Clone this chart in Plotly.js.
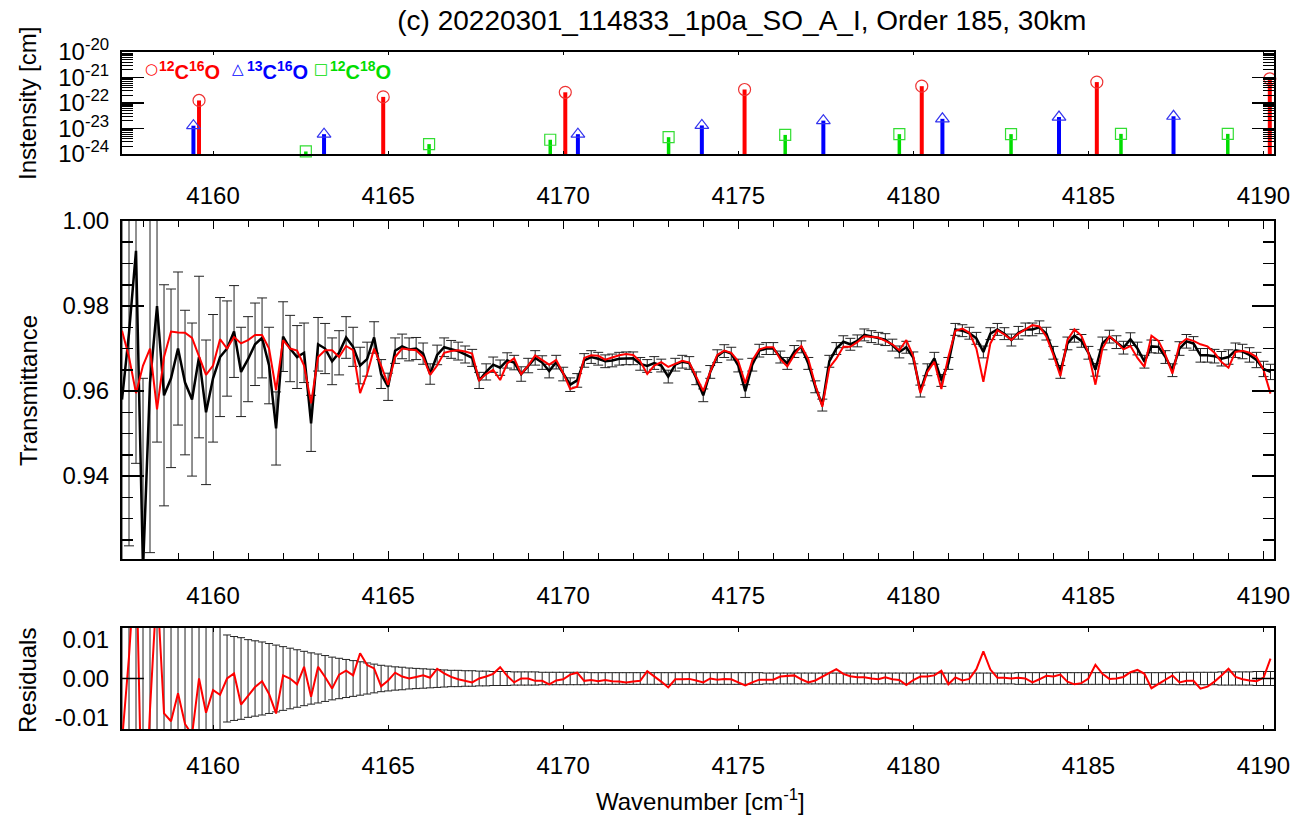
<!DOCTYPE html>
<html><head><meta charset="utf-8">
<script src="https://cdn.plot.ly/plotly-3.0.1.min.js"></script>
<style>html,body{margin:0;padding:0;background:#fff}#chart{width:1300px;height:823px}</style>
</head><body><div id="chart"></div>
<script>
// ---- spectral grid (cm-1) ----
const wavenumber = [
4157.4,4157.6,4157.8,4158.0,4158.2,4158.4,4158.6,4158.8,4159.0,4159.2,4159.4,4159.6,4159.8,
4160.0,4160.2,4160.4,4160.6,4160.8,4161.0,4161.2,4161.4,4161.6,4161.8,4162.0,4162.2,4162.4,4162.6,4162.8,4163.0,4163.2,4163.4,4163.6,4163.8,4164.0,4164.2,4164.4,4164.6,4164.8,
4165.0,4165.2,4165.4,4165.6,4165.8,4166.0,4166.2,4166.4,4166.6,4166.8,4167.0,4167.2,4167.4,4167.6,4167.8,4168.0,4168.2,4168.4,4168.6,4168.8,4169.0,4169.2,4169.4,4169.6,4169.8,
4170.0,4170.2,4170.4,4170.6,4170.8,4171.0,4171.2,4171.4,4171.6,4171.8,4172.0,4172.2,4172.4,4172.6,4172.8,4173.0,4173.2,4173.4,4173.6,4173.8,4174.0,4174.2,4174.4,4174.6,4174.8,
4175.0,4175.2,4175.4,4175.6,4175.8,4176.0,4176.2,4176.4,4176.6,4176.8,4177.0,4177.2,4177.4,4177.6,4177.8,4178.0,4178.2,4178.4,4178.6,4178.8,4179.0,4179.2,4179.4,4179.6,4179.8,
4180.0,4180.2,4180.4,4180.6,4180.8,4181.0,4181.2,4181.4,4181.6,4181.8,4182.0,4182.2,4182.4,4182.6,4182.8,4183.0,4183.2,4183.4,4183.6,4183.8,4184.0,4184.2,4184.4,4184.6,4184.8,
4185.0,4185.2,4185.4,4185.6,4185.8,4186.0,4186.2,4186.4,4186.6,4186.8,4187.0,4187.2,4187.4,4187.6,4187.8,4188.0,4188.2,4188.4,4188.6,4188.8,4189.0,4189.2,4189.4,4189.6,4189.8,
4190.0,4190.2];

// ---- observed transmittance (black) ----
const observed = [
0.958,0.9736,0.993,0.918,0.962,0.980,0.959,0.963,0.970,0.962,0.958,0.968,0.955,
0.963,0.968,0.970,0.974,0.9645,0.9675,0.971,0.9725,0.966,0.9512,0.9728,0.970,0.968,0.969,0.9524,0.971,0.970,0.967,0.969,0.9726,0.9704,0.9660,0.9675,0.9726,0.9640,
0.9610,0.9695,0.9705,0.9698,0.9700,0.9688,0.9640,0.9685,0.9703,0.9698,0.9694,0.9686,0.9678,0.9625,0.9645,0.9662,0.9655,0.9672,0.9667,0.9640,0.9660,0.9678,0.9667,0.9647,0.9668,
0.9640,0.9615,0.9625,0.9672,0.9680,0.9676,0.9670,0.9672,0.9676,0.9677,0.9677,0.9664,0.9659,0.9666,0.9660,0.9634,0.9662,0.9669,0.9666,0.9630,0.9590,0.9645,0.9682,0.9694,0.9688,
0.9660,0.9600,0.9662,0.9695,0.9700,0.9700,0.9680,0.9665,0.9693,0.9704,0.9665,0.9610,0.9567,0.9670,0.9700,0.9716,0.9710,0.9718,0.9732,0.9728,0.9724,0.9721,0.9708,0.9692,0.9703,
0.9678,0.9600,0.9650,0.9677,0.9625,0.9665,0.9745,0.9742,0.9736,0.9724,0.9692,0.9735,0.9745,0.9735,0.9720,0.9737,0.9745,0.9745,0.9750,0.9735,0.9690,0.9645,0.9712,0.9730,0.9718,
0.9690,0.9650,0.9712,0.9728,0.9715,0.9702,0.9722,0.9700,0.9669,0.9705,0.9704,0.9680,0.9649,0.9700,0.9717,0.9712,0.9684,0.9684,0.9682,0.9676,0.9680,0.9696,0.9693,0.9685,0.9673,
0.9652,0.9645];

// ---- model transmittance (red) ----
const model = [
0.9742,0.968,0.9595,0.966,0.970,0.9557,0.968,0.9740,0.9738,0.9737,0.9725,0.968,0.9638,
0.966,0.9722,0.970,0.9727,0.9712,0.972,0.9732,0.9732,0.970,0.9602,0.972,0.970,0.9695,0.966,0.9571,0.968,0.9696,0.9696,0.968,0.9706,0.9696,0.9595,0.9640,0.9700,0.9660,
0.9615,0.9680,0.9700,0.9698,0.9696,0.9680,0.9638,0.9660,0.9690,0.9694,0.9696,0.9693,0.9688,0.9625,0.9640,0.9650,0.9626,0.9665,0.9677,0.9640,0.9660,0.9684,0.9673,0.9662,0.9673,
0.9642,0.9605,0.9610,0.9678,0.9684,0.9683,0.9674,0.9679,0.9684,0.9687,0.9685,0.9670,0.9640,0.9660,0.9668,0.9657,0.9664,0.9671,0.9667,0.9635,0.9600,0.9645,0.9685,0.9695,0.9690,
0.9670,0.9618,0.9672,0.9698,0.9703,0.9703,0.9675,0.9658,0.9685,0.9706,0.9675,0.9615,0.9563,0.9655,0.9676,0.9704,0.9704,0.9715,0.9729,0.9728,0.9726,0.9718,0.9710,0.9696,0.9720,
0.9682,0.9595,0.9645,0.9669,0.9605,0.9680,0.9742,0.9747,0.9737,0.9700,0.9622,0.9712,0.9743,0.9733,0.9720,0.9735,0.9745,0.9755,0.9752,0.9728,0.9685,0.9635,0.9720,0.9745,0.9730,
0.9690,0.9615,0.9700,0.9729,0.9715,0.9698,0.9706,0.9678,0.9657,0.9730,0.9718,0.9685,0.9641,0.9710,0.9723,0.9718,0.9710,0.9705,0.9690,0.9668,0.9655,0.9692,0.9695,0.9690,0.9680,
0.9650,0.9594];

// ---- 1-sigma uncertainty ----
const sigma = [
0.045,0.050,0.050,0.045,0.040,0.032,0.026,0.021,0.018,0.017,0.018,0.019,0.017,
0.015,0.014,0.0112,0.0108,0.0105,0.0100,0.0097,0.0094,0.0090,0.0086,0.0082,0.0078,0.0074,0.0070,0.0066,0.0063,0.0059,0.0055,0.0052,0.0049,0.0046,0.0043,0.0040,0.0037,0.0034,
0.0032,0.0030,0.0029,0.0027,0.0026,0.0025,0.0024,0.0023,0.0022,0.0021,0.0021,0.0020,0.0020,0.0019,0.0019,0.0018,0.0018,0.0018,0.0017,0.0017,0.0017,0.0017,0.0016,0.0016,0.0016,
0.0016,0.0016,0.0016,0.0016,0.0015,0.0015,0.0015,0.0015,0.0015,0.0015,0.0015,0.0015,0.0015,0.0015,0.0015,0.0015,0.0015,0.0015,0.0015,0.0015,0.0015,0.0015,0.0015,0.0015,0.0015,
0.0015,0.0015,0.0015,0.0015,0.0014,0.0014,0.0014,0.0014,0.0014,0.0014,0.0014,0.0014,0.0014,0.0014,0.0014,0.0014,0.0014,0.0014,0.0014,0.0014,0.0014,0.0014,0.0014,0.0014,0.0014,
0.0014,0.0014,0.0014,0.0014,0.0014,0.0014,0.0014,0.0014,0.0014,0.0014,0.0014,0.0014,0.0014,0.0014,0.0014,0.0015,0.0015,0.0015,0.0015,0.0015,0.0015,0.0015,0.0015,0.0015,0.0015,
0.0015,0.0015,0.0015,0.0015,0.0015,0.0015,0.0015,0.0015,0.0015,0.0015,0.0015,0.0015,0.0015,0.0016,0.0016,0.0016,0.0016,0.0016,0.0016,0.0017,0.0017,0.0017,0.0017,0.0017,0.0018,
0.0018,0.0018];

// ---- line list (intensities, cm/molecule) ----
const co12_16_wn = [4159.60,4164.86,4170.06,4175.18,4180.24,4185.24,4190.18];
const co12_16_S  = [1.26e-22,1.74e-22,2.63e-22,3.39e-22,4.57e-22,6.61e-22,8.91e-22];
const co13_16_wn = [4159.44,4163.17,4170.42,4173.96,4177.43,4180.83,4184.16,4187.43];
const co13_16_S  = [1.29e-23,6.0e-24,6.0e-24,1.32e-23,2.04e-23,2.40e-23,2.82e-23,3.02e-23];
const co12_18_wn = [4162.65,4166.17,4169.63,4173.01,4176.34,4179.60,4182.79,4185.93,4188.98];
const co12_18_S  = [1.26e-24,2.45e-24,3.63e-24,4.57e-24,5.62e-24,6.03e-24,6.03e-24,6.17e-24,6.17e-24];

const xRange = [4157.4, 4190.3];
const decadeTicks = [1e-24,1e-23,1e-22,1e-21,1e-20];
const decadeText = ['10<sup>-24</sup>','10<sup>-23</sup>','10<sup>-22</sup>','10<sup>-21</sup>','10<sup>-20</sup>'];
const isotopologues = ['<sup>12</sup>C<sup>16</sup>O','<sup>13</sup>C<sup>16</sup>O','<sup>12</sup>C<sup>18</sup>O'];
const legendSymbols = ['○','△','□'];

// ---- derived ----
const residual = observed.map((v,i)=>v-model[i]);
const zeros = observed.map(()=>0);
const stickBase = 1e-24;
function sticks(wn, s){const x=[],y=[];wn.forEach((w,i)=>{x.push(w,w,null);y.push(stickBase,s[i],null);});return {x,y};}
const minorLog=[];decadeTicks.slice(0,4).forEach(d=>{for(let m=2;m<10;m++)minorLog.push(d*m);});

const FONT='Liberation Sans, Arial, Helvetica, sans-serif';
const RED='#ff0000', BLUE='#0000ff', GREEN='#00dd00';
const isoColors=[RED,BLUE,GREEN];

const s12=sticks(co12_16_wn,co12_16_S), s13=sticks(co13_16_wn,co13_16_S), s18=sticks(co12_18_wn,co12_18_S);
const traces=[
 {x:s12.x,y:s12.y,mode:'lines',line:{color:RED,width:4},xaxis:'x',yaxis:'y',hoverinfo:'skip'},
 {x:s13.x,y:s13.y,mode:'lines',line:{color:BLUE,width:4},xaxis:'x',yaxis:'y',hoverinfo:'skip'},
 {x:s18.x,y:s18.y,mode:'lines',line:{color:GREEN,width:3.5},xaxis:'x',yaxis:'y',hoverinfo:'skip'},
 {x:co12_16_wn,y:co12_16_S,mode:'markers',marker:{symbol:'circle-open',size:12,color:'#ee3333',line:{width:1.2}},xaxis:'x',yaxis:'y',cliponaxis:false},
 {x:co13_16_wn,y:co13_16_S,mode:'markers',marker:{symbol:'triangle-up-open',size:12,color:'#3333ee',line:{width:1.2}},xaxis:'x',yaxis:'y'},
 {x:co12_18_wn,y:co12_18_S,mode:'markers',marker:{symbol:'square-open',size:11,color:'#33dd33',line:{width:1.2}},xaxis:'x',yaxis:'y',cliponaxis:false},
 // middle panel
 {x:wavenumber,y:observed,mode:'lines',line:{color:'#000',width:2.5},
  error_y:{type:'data',array:sigma,visible:true,color:'#222',thickness:1,width:5},xaxis:'x2',yaxis:'y2'},
 {x:wavenumber,y:model,mode:'lines',line:{color:RED,width:2},xaxis:'x2',yaxis:'y2'},
 // residuals
 {x:wavenumber,y:zeros,mode:'markers',marker:{size:1,color:'rgba(0,0,0,0)'},
  error_y:{type:'data',array:sigma,visible:true,color:'#222',thickness:1,width:4},xaxis:'x3',yaxis:'y3'},
 {x:wavenumber,y:residual,mode:'lines',line:{color:RED,width:2},xaxis:'x3',yaxis:'y3'}
];

const tickFont={family:FONT,size:24,color:'#000'};
const baseX={range:xRange,showgrid:false,zeroline:false,showline:true,linewidth:2,linecolor:'#000',
  mirror:'ticks',ticks:'inside',tickcolor:'#000',tickfont:tickFont,tickmode:'linear',tick0:4160,dtick:5,
  ticklabelstandoff:14};
const baseY={showgrid:false,zeroline:false,showline:true,linewidth:2,linecolor:'#000',mirror:'ticks',
  ticks:'inside',tickcolor:'#000',tickfont:tickFont,ticklabelstandoff:6};

const legendX=[[0.0252,0.0304],[0.1011,0.1068],[0.1727,0.1788]];
const legendAnn=[];
isotopologues.forEach((t,i)=>{
  legendAnn.push({text:legendSymbols[i],xref:'paper',yref:'paper',x:legendX[i][0],y:0.9749,xanchor:'center',yanchor:'middle',
    showarrow:false,font:{family:'DejaVu Sans, sans-serif',size:15,color:isoColors[i]}});
  legendAnn.push({text:'<b>'+t+'</b>',xref:'paper',yref:'paper',x:legendX[i][1],y:0.9734,xanchor:'left',yanchor:'middle',
    showarrow:false,font:{family:FONT,size:20,color:isoColors[i]}});
});

const layout={
 width:1300,height:823,paper_bgcolor:'#fff',plot_bgcolor:'#fff',showlegend:false,
 margin:{l:122,r:26,t:52,b:94},
 font:{family:FONT,size:24,color:'#000'},
 title:{text:'(c) 20220301_114833_1p0a_SO_A_I, Order 185, 30km',font:{family:FONT,size:28,color:'#000'},
   xref:'paper',x:0.538,xanchor:'center',yref:'container',y:0.976,yanchor:'middle'},
 xaxis:Object.assign({},baseX,{anchor:'y',ticklen:3,tickwidth:1,ticklabelstandoff:19}),
 yaxis:Object.assign({},baseY,{domain:[0.8493,1],type:'log',range:[-24,-20],tickmode:'array',tickvals:decadeTicks,
   ticktext:decadeText,ticklen:22,tickwidth:1.5,
   minor:{tickmode:'array',tickvals:minorLog,ticks:'inside',ticklen:11,tickcolor:'#000',tickwidth:1}}),
 xaxis2:Object.assign({},baseX,{anchor:'y2',matches:'x',ticklen:8,tickwidth:1,
   minor:{tick0:4157,dtick:1,ticks:'inside',ticklen:6,tickcolor:'#000'}}),
 yaxis2:Object.assign({},baseY,{domain:[0.2511,0.7504],range:[0.9205,1.0],tickmode:'linear',tick0:0.94,dtick:0.02,
   tickformat:'.2f',ticklen:22,tickwidth:1.5,minor:{tick0:0.94,dtick:0.005,ticks:'inside',ticklen:11,tickcolor:'#000'}}),
 xaxis3:Object.assign({},baseX,{anchor:'y3',matches:'x',ticklen:4,tickwidth:1}),
 yaxis3:Object.assign({},baseY,{domain:[0,0.1492],range:[-0.013,0.013],tickmode:'array',tickvals:[-0.01,0,0.01],
   ticktext:['-0.01','0.00','0.01'],ticks:''}),
 shapes:[
  {type:'line',xref:'x3 domain',yref:'y3',x0:0,x1:0.019,y0:0,y1:0,line:{color:'#000',width:1.5}},
  {type:'line',xref:'x3 domain',yref:'y3',x0:0.981,x1:1,y0:0,y1:0,line:{color:'#000',width:1.5}}
 ],
 annotations:legendAnn.concat([
  {text:'Instensity [cm]',xref:'paper',yref:'paper',x:-0.0816,y:0.9247,textangle:-90,xanchor:'center',yanchor:'middle',
   showarrow:false,font:{family:FONT,size:24,color:'#000'}},
  {text:'Transmittance',xref:'paper',yref:'paper',x:-0.0816,y:0.5007,textangle:-90,xanchor:'center',yanchor:'middle',
   showarrow:false,font:{family:FONT,size:24,color:'#000'}},
  {text:'Residuals',xref:'paper',yref:'paper',x:-0.0816,y:0.0724,textangle:-90,xanchor:'center',yanchor:'middle',
   showarrow:false,font:{family:FONT,size:24,color:'#000'}},
  {text:'Wavenumber [cm<sup>-1</sup>]',xref:'paper',yref:'paper',x:0.502,y:-0.1049,xanchor:'center',yanchor:'middle',
   showarrow:false,font:{family:FONT,size:24,color:'#000'}}
 ])
};
Plotly.newPlot('chart',traces,layout,{staticPlot:true,displayModeBar:false});
</script></body></html>
